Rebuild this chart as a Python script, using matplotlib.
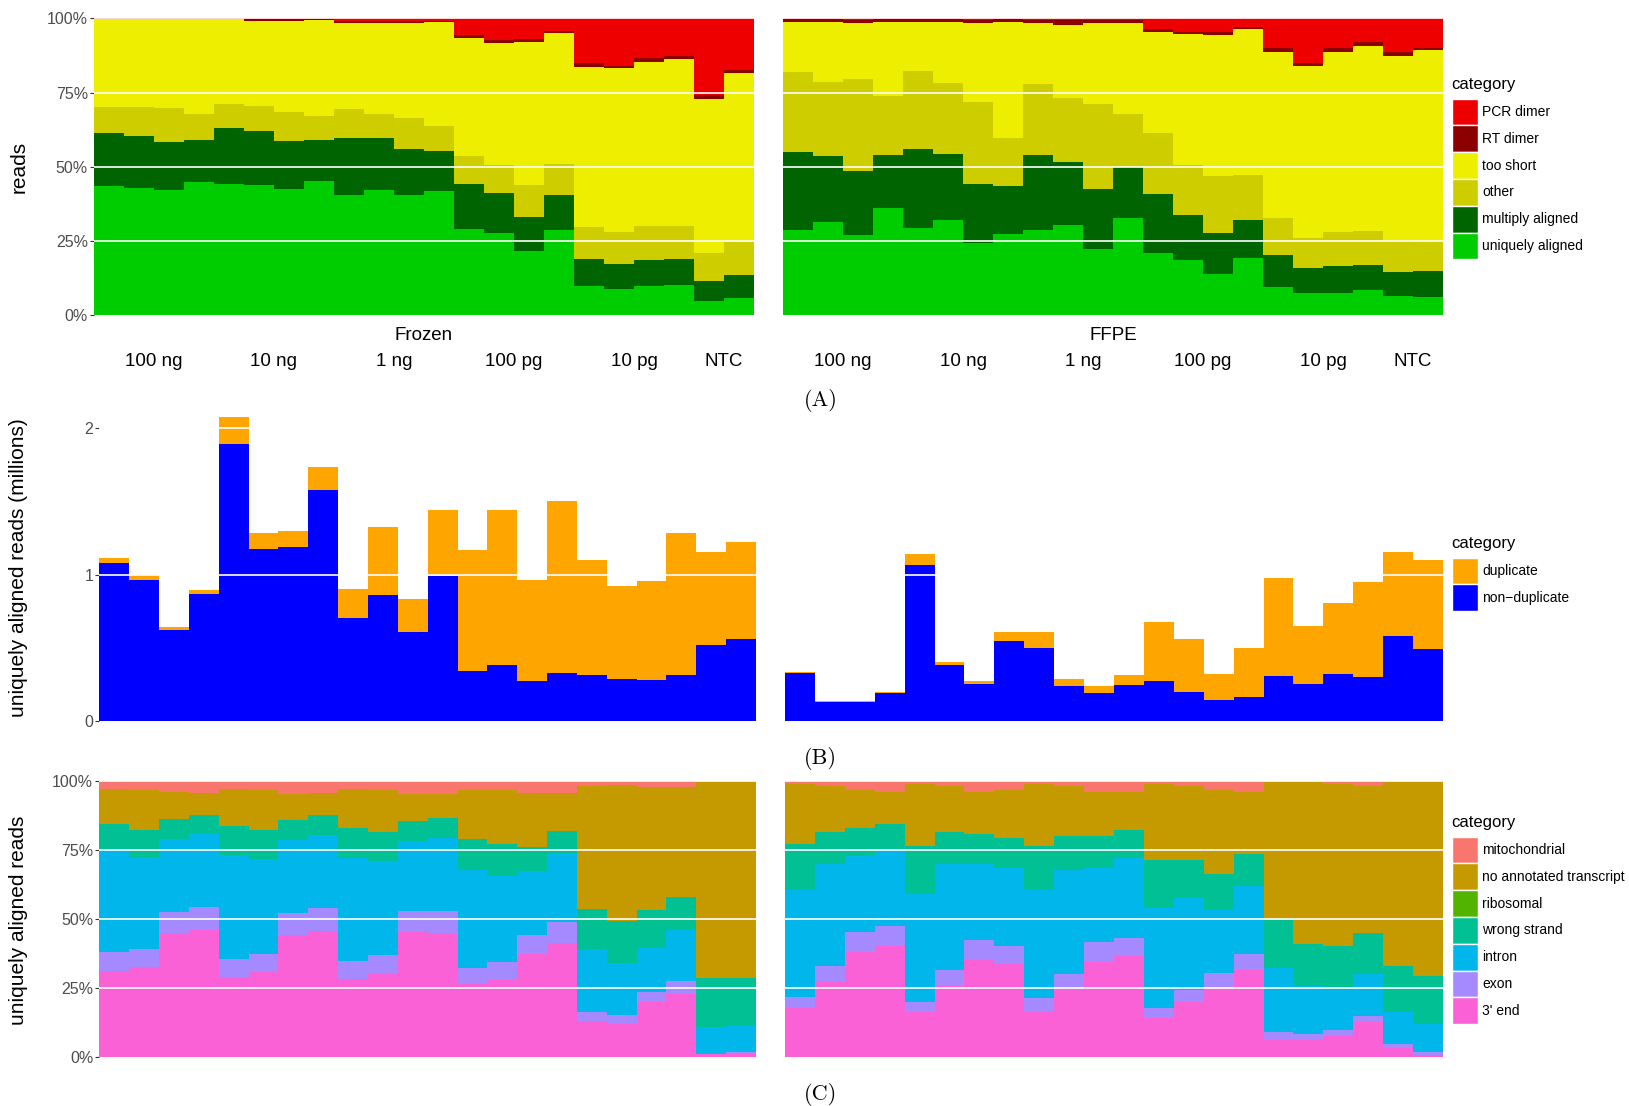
"""Stacked read-category bars for frozen and FFPE libraries (panels A-C)."""
import matplotlib

matplotlib.use("Agg")
import matplotlib.pyplot as plt
import numpy as np
from matplotlib.patches import Rectangle

W, H = 1629, 1106

GROUP_LABELS = ["100 ng", "10 ng", "1 ng", "100 pg", "10 pg", "NTC"]
GROUP_SIZES = [4, 4, 4, 4, 4, 2]
SAMPLES = ["Frozen", "FFPE"]

# --- panel A: read categories (percent of reads) ---
A_CATEGORIES = ["PCR dimer", "RT dimer", "too short", "other",
                "multiply aligned", "uniquely aligned"]
A_COLORS = ["#EE0000", "#8B0000", "#EEEE00", "#CDCD00", "#006400", "#00CD00"]

FROZEN_PCR = [0.2, 0.2, 0.2, 0.2, 0.2, 0.4, 0.4, 0.3, 1.0, 1.0, 1.0, 0.8,
              5.6, 7.3, 7.0, 4.3, 15.0, 15.9, 13.2, 12.6, 25.9, 17.4]
FROZEN_RT = [0.2, 0.2, 0.2, 0.2, 0.2, 0.4, 0.4, 0.3, 0.5, 0.5, 0.5, 0.4,
             0.9, 0.9, 0.9, 0.5, 1.3, 1.0, 1.4, 1.0, 1.2, 0.9]
FROZEN_SHORT = [29.5, 29.5, 29.8, 31.8, 28.4, 28.7, 30.7, 32.3, 29.0, 30.7, 32.1, 35.1,
                39.9, 41.2, 48.2, 44.2, 54.0, 55.0, 55.3, 56.3, 51.9, 57.0]
FROZEN_OTHER = [8.7, 9.7, 11.4, 8.8, 8.1, 8.4, 9.8, 8.1, 9.8, 8.1, 10.4, 8.4,
                9.4, 9.4, 10.8, 10.5, 10.7, 10.8, 11.5, 11.1, 9.4, 11.1]
FROZEN_MULTI = [17.9, 17.5, 16.2, 14.1, 18.9, 18.2, 16.2, 13.8, 19.2, 17.5, 15.5, 13.4,
                15.1, 13.5, 11.4, 11.7, 9.3, 8.4, 8.9, 8.8, 6.8, 7.7]
FROZEN_UNIQUE = [43.5, 42.9, 42.2, 44.9, 44.2, 43.9, 42.5, 45.2, 40.5, 42.2, 40.5, 41.9,
                 29.1, 27.7, 21.7, 28.8, 9.7, 8.9, 9.7, 10.2, 4.8, 5.9]

FFPE_PCR = [0.4, 0.4, 0.5, 0.4, 0.4, 0.4, 0.5, 0.4, 0.5, 0.6, 0.5, 0.5,
            3.7, 4.5, 4.7, 3.0, 10.0, 14.9, 10.1, 8.1, 11.3, 9.9]
FFPE_RT = [0.8, 0.8, 1.1, 0.8, 0.8, 0.8, 1.1, 0.8, 1.1, 1.5, 1.1, 1.1,
           0.9, 0.8, 0.9, 0.6, 1.3, 1.3, 1.1, 1.1, 1.3, 0.8]
FFPE_SHORT = [16.9, 20.1, 18.8, 24.8, 16.5, 20.6, 26.6, 39.0, 20.5, 24.7, 27.2, 30.6,
              34.0, 44.1, 47.5, 49.1, 55.9, 57.8, 60.7, 62.4, 62.0, 64.2]
FFPE_OTHER = [26.9, 25.1, 31.0, 20.0, 26.3, 23.9, 27.6, 16.3, 23.9, 21.6, 28.7, 17.9,
              20.5, 16.8, 19.2, 15.2, 12.5, 10.1, 11.5, 11.5, 10.8, 10.2]
FFPE_MULTI = [26.3, 22.2, 21.6, 17.9, 26.6, 22.2, 19.7, 16.1, 25.3, 21.2, 20.2, 17.1,
              19.9, 15.2, 13.8, 12.8, 10.8, 8.4, 9.1, 8.4, 8.1, 8.7]
FFPE_UNIQUE = [28.7, 31.4, 27.0, 36.1, 29.4, 32.1, 24.5, 27.4, 28.7, 30.4, 22.3, 32.8,
               21.0, 18.6, 13.9, 19.3, 9.5, 7.5, 7.5, 8.5, 6.5, 6.2]

# --- panel B: uniquely aligned reads (millions) ---
B_CATEGORIES = ["duplicate", "non\u2212duplicate"]
B_COLORS = ["#FFA500", "#0000FF"]

FROZEN_DUP = [0.035, 0.034, 0.020, 0.027, 0.184, 0.109, 0.109, 0.157, 0.198, 0.464, 0.225,
              0.451, 0.827, 1.060, 0.690, 1.175, 0.786, 0.635, 0.676, 0.970, 0.636, 0.663]
FROZEN_NONDUP = [1.077, 0.961, 0.620, 0.866, 1.891, 1.173, 1.187, 1.576, 0.702, 0.859, 0.606,
                 0.989, 0.339, 0.380, 0.271, 0.326, 0.312, 0.285, 0.278, 0.312, 0.517, 0.558]
FFPE_DUP = [0.007, 0.007, 0.007, 0.006, 0.075, 0.020, 0.020, 0.062, 0.110, 0.048, 0.047,
            0.068, 0.403, 0.362, 0.177, 0.334, 0.668, 0.395, 0.484, 0.654, 0.580, 0.613]
FFPE_NONDUP = [0.325, 0.127, 0.127, 0.189, 1.068, 0.380, 0.250, 0.543, 0.495, 0.236, 0.189,
               0.243, 0.270, 0.195, 0.141, 0.161, 0.305, 0.250, 0.318, 0.298, 0.577, 0.489]

# --- panel C: annotation of uniquely aligned reads (percent) ---
C_CATEGORIES = ["mitochondrial", "no annotated transcript", "ribosomal",
                "wrong strand", "intron", "exon", "3' end"]
C_COLORS = ["#F8766D", "#C49A00", "#53B400", "#00C094", "#00B6EB", "#A58AFF", "#FB61D7"]

FROZEN_MITO = [2.9, 3.4, 4.1, 4.3, 2.9, 3.4, 4.8, 4.3, 2.9, 3.4, 4.8, 4.8,
               3.4, 3.4, 4.3, 4.3, 1.9, 1.4, 2.2, 2.2, 0.5, 0.5]
FROZEN_NOANNOT = [12.8, 14.5, 9.7, 8.0, 13.5, 14.5, 9.5, 8.0, 14.2, 15.2, 9.7, 8.7,
                  17.6, 19.5, 19.6, 13.8, 44.5, 49.3, 44.7, 39.8, 70.9, 70.9]
FROZEN_RIBO = [0, 0, 0, 0, 0, 0, 0, 0, 0, 0, 0, 0, 0, 0, 0, 0, 0, 0, 0, 0, 0, 0]
FROZEN_WRONG = [9.1, 9.6, 7.3, 7.0, 10.4, 10.4, 7.2, 7.3, 10.9, 10.4, 7.2, 7.3,
                11.4, 11.6, 8.7, 8.0, 14.5, 15.2, 13.7, 12.1, 17.9, 17.5]
FROZEN_INTRON = [37.3, 33.4, 26.4, 26.4, 37.7, 34.5, 26.3, 26.4, 37.3, 34.0, 25.4, 26.3,
                 35.4, 31.2, 23.3, 25.1, 22.9, 18.9, 16.0, 18.5, 9.6, 9.5]
FROZEN_EXON = [6.9, 6.5, 8.1, 8.4, 6.5, 6.5, 8.0, 8.3, 6.4, 7.0, 7.7, 8.5,
               5.9, 6.5, 6.9, 7.5, 3.2, 3.4, 3.6, 4.7, 0.3, 0.3]
FROZEN_3END = [31.0, 32.6, 44.4, 45.9, 29.0, 30.7, 44.2, 45.7, 28.3, 30.0, 45.2, 44.4,
               26.3, 27.8, 37.2, 41.3, 13.0, 11.8, 19.8, 22.7, 0.8, 1.3]

FFPE_MITO = [1.1, 1.8, 3.5, 4.0, 1.1, 2.1, 4.0, 3.5, 1.3, 2.1, 4.0, 4.2,
             1.1, 2.1, 3.3, 4.0, 0.6, 0.6, 1.1, 1.8, 0.4, 0.4]
FFPE_NOANNOT = [22.0, 16.7, 13.5, 11.6, 22.7, 16.4, 15.4, 17.4, 22.3, 17.8, 16.2, 13.6,
                27.8, 26.8, 30.6, 22.7, 49.8, 58.5, 58.9, 53.2, 66.6, 70.5]
FFPE_RIBO = [0, 0, 0, 0, 0, 0, 0, 0, 0, 0, 0, 0, 0, 0, 0, 0, 0, 0, 0, 0, 0, 0]
FFPE_WRONG = [16.4, 11.6, 10.2, 9.4, 17.1, 11.8, 10.9, 10.9, 16.1, 12.6, 11.3, 10.1,
              17.1, 13.5, 12.8, 11.3, 17.6, 15.4, 16.0, 15.2, 16.7, 17.4]
FFPE_INTRON = [38.8, 36.9, 27.5, 27.5, 39.2, 38.2, 27.3, 28.2, 39.2, 37.7, 26.8, 29.0,
               36.5, 33.3, 22.9, 24.9, 23.2, 17.4, 14.2, 14.9, 11.8, 10.0]
FFPE_EXON = [3.9, 5.8, 7.3, 7.5, 3.8, 5.8, 7.3, 6.3, 4.8, 5.5, 7.3, 6.7,
             3.6, 4.6, 5.4, 5.8, 2.6, 2.2, 2.2, 2.5, 1.2, 1.1]
FFPE_3END = [17.8, 27.2, 38.0, 40.0, 16.1, 25.7, 35.1, 33.7, 16.3, 24.3, 34.4, 36.4,
             13.9, 19.7, 25.0, 31.3, 6.2, 5.9, 7.6, 12.4, 3.3, 0.6]

plt.rcParams["font.family"] = ["Liberation Sans", "DejaVu Sans"]
TICK_GREY = "#4D4D4D"


def box(x0, x1, y0, y1):
    """Axes rectangle from pixel edges (y measured from the top)."""
    return [x0 / W, 1 - y1 / H, (x1 - x0) / W, (y1 - y0) / H]


def stacked(ax, layers, colors, normalise):
    """Stack layers (given top to bottom) as touching bars."""
    data = np.array(layers, dtype=float)[::-1]
    cols = colors[::-1]
    if normalise:
        data = data / data.sum(axis=0)
    x = np.arange(data.shape[1])
    bottom = np.zeros(data.shape[1])
    for vals, col in zip(data, cols):
        ax.bar(x, vals, width=1.0, bottom=bottom, color=col, linewidth=0,
               antialiased=False, zorder=2)
        bottom += vals
    ax.set_xlim(-0.5, data.shape[1] - 0.5)


def style(ax, ticks, labels, show_y):
    for sp in ax.spines.values():
        sp.set_visible(False)
    ax.set_xticks([])
    ax.set_yticks(ticks)
    for t in ticks:
        if 0 < t:
            ax.axhline(t, color="white", lw=1.2, zorder=3)
    if show_y:
        ax.set_yticklabels(labels)
        ax.tick_params(axis="y", length=2.9, width=0.8, color="#333333", pad=1.5,
                       labelsize=11.5, labelcolor=TICK_GREY)
    else:
        ax.tick_params(axis="y", length=0, labelleft=False)


def draw_legend(fig, title_y, names, colors):
    fig.text(1451 / W, 1 - title_y / H, "category", ha="left", va="center", fontsize=12)
    pitch = 26.8
    top = title_y + 13.5
    for i, (name, col) in enumerate(zip(names, colors)):
        y0 = top + i * pitch
        fig.add_artist(Rectangle((1452 / W, 1 - (y0 + pitch) / H), 25.5 / W, pitch / H,
                                 transform=fig.transFigure, facecolor=col,
                                 edgecolor="white", linewidth=1.0))
        fig.text(1482 / W, 1 - (y0 + pitch / 2) / H, name, ha="left", va="center",
                 fontsize=10)


fig = plt.figure(figsize=(W / 100, H / 100), dpi=100)

# panel A
a_data = {
    "Frozen": [FROZEN_PCR, FROZEN_RT, FROZEN_SHORT, FROZEN_OTHER, FROZEN_MULTI, FROZEN_UNIQUE],
    "FFPE": [FFPE_PCR, FFPE_RT, FFPE_SHORT, FFPE_OTHER, FFPE_MULTI, FFPE_UNIQUE],
}
pct_ticks = [0, 0.25, 0.5, 0.75, 1.0]
pct_labels = ["0%", "25%", "50%", "75%", "100%"]
edges = np.cumsum([0] + GROUP_SIZES)
centers = (edges[:-1] + edges[1:]) / 2 - 0.5
for i, (sample, x0, x1) in enumerate([("Frozen", 94, 754), ("FFPE", 783, 1443)]):
    ax = fig.add_axes(box(x0, x1, 18.3, 315.3))
    stacked(ax, a_data[sample], A_COLORS, normalise=True)
    ax.set_ylim(0, 1)
    style(ax, pct_ticks, pct_labels, i == 0)
    ax.text(0.5, -20 / 297, sample, transform=ax.transAxes, ha="center", va="center",
            fontsize=13.5)
    for c, lab in zip(centers, GROUP_LABELS):
        ax.text(c, -46 / 297, lab, transform=ax.get_xaxis_transform(), ha="center",
                va="center", fontsize=13.5)
draw_legend(fig, 85, A_CATEGORIES, A_COLORS)

# panel B
b_data = {"Frozen": [FROZEN_DUP, FROZEN_NONDUP], "FFPE": [FFPE_DUP, FFPE_NONDUP]}
for i, (sample, x0, x1) in enumerate([("Frozen", 99.3, 756), ("FFPE", 785, 1443)]):
    ax = fig.add_axes(box(x0, x1, 402, 720.7))
    stacked(ax, b_data[sample], B_COLORS, normalise=False)
    ax.set_ylim(0, 2.18)
    style(ax, [0, 1, 2], ["0", "1", "2"], i == 0)
draw_legend(fig, 544, B_CATEGORIES, B_COLORS)

# panel C
c_data = {
    "Frozen": [FROZEN_MITO, FROZEN_NOANNOT, FROZEN_RIBO, FROZEN_WRONG, FROZEN_INTRON,
               FROZEN_EXON, FROZEN_3END],
    "FFPE": [FFPE_MITO, FFPE_NOANNOT, FFPE_RIBO, FFPE_WRONG, FFPE_INTRON, FFPE_EXON,
             FFPE_3END],
}
for i, (sample, x0, x1) in enumerate([("Frozen", 99.3, 756), ("FFPE", 785, 1443)]):
    ax = fig.add_axes(box(x0, x1, 780.7, 1056.7))
    stacked(ax, c_data[sample], C_COLORS, normalise=True)
    ax.set_ylim(0, 1)
    style(ax, pct_ticks, pct_labels, i == 0)
draw_legend(fig, 823, C_CATEGORIES, C_COLORS)

# axis titles and panel letters
for text, yc in [("reads", 166.8), ("uniquely aligned reads (millions)", 568),
                 ("uniquely aligned reads", 920)]:
    fig.text(19 / W, 1 - yc / H, text, rotation=90, ha="center", va="center", fontsize=15)
for letter, yc in [("(A)", 400), ("(B)", 758), ("(C)", 1095)]:
    fig.text(820.7 / W, 1 - yc / H, letter, ha="center", va="center", fontsize=16,
             family="cmr10")

fig.savefig("out.png", dpi=100)
